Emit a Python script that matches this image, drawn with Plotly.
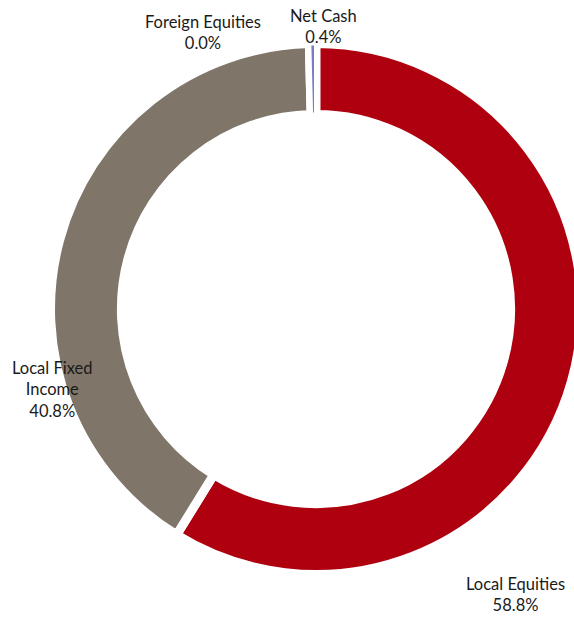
import plotly.graph_objects as go

categories = ["Local Equities", "Local Fixed Income", "Foreign Equities", "Net Cash"]
weights = [58.8, 40.8, 0.0, 0.4]
label_lines = ["Local Equities", "Local Fixed<br>Income", "Foreign Equities", "Net Cash"]
colors = ["#AE000F", "#7F7669", "#6E6E6E", "#7B7BC8"]

W, H = 590, 618

def px(x, y):
    return x / W, 1 - y / H

cx, cy, R = 316, 309, 265.5

fig = go.Figure(go.Pie(
    labels=categories,
    values=weights,
    sort=False,
    direction="clockwise",
    rotation=0,
    hole=0.733,
    marker=dict(colors=colors, line=dict(color="white", width=[9, 9, 9, 4])),
    textinfo="none",
    hoverinfo="label+percent",
    domain=dict(x=[(cx - R) / W, (cx + R) / W], y=[1 - (cy + R) / H, 1 - (cy - R) / H]),
    showlegend=False,
))

label_pos = [(515, 594), (52, 389), (203, 32), (323, 27)]
anns = []
for name, val, (x, y) in zip(label_lines, weights, label_pos):
    ax, ay = px(x, y)
    anns.append(dict(
        x=ax, y=ay, xref="paper", yref="paper",
        text=f"{name}<br>{val:.1f}%",
        showarrow=False, xanchor="center", yanchor="middle",
        align="center",
        font=dict(family="Lato, sans-serif", size=16.5, color="#1A1A1A"),
    ))

fig.update_layout(
    width=W, height=H,
    margin=dict(l=0, r=0, t=0, b=0),
    paper_bgcolor="white",
    plot_bgcolor="white",
    annotations=anns,
)

fig.write_html(
    "out.html",
    config={"displayModeBar": False},
    post_script="document.body.style.margin='0';document.body.style.overflow='hidden';",
)
